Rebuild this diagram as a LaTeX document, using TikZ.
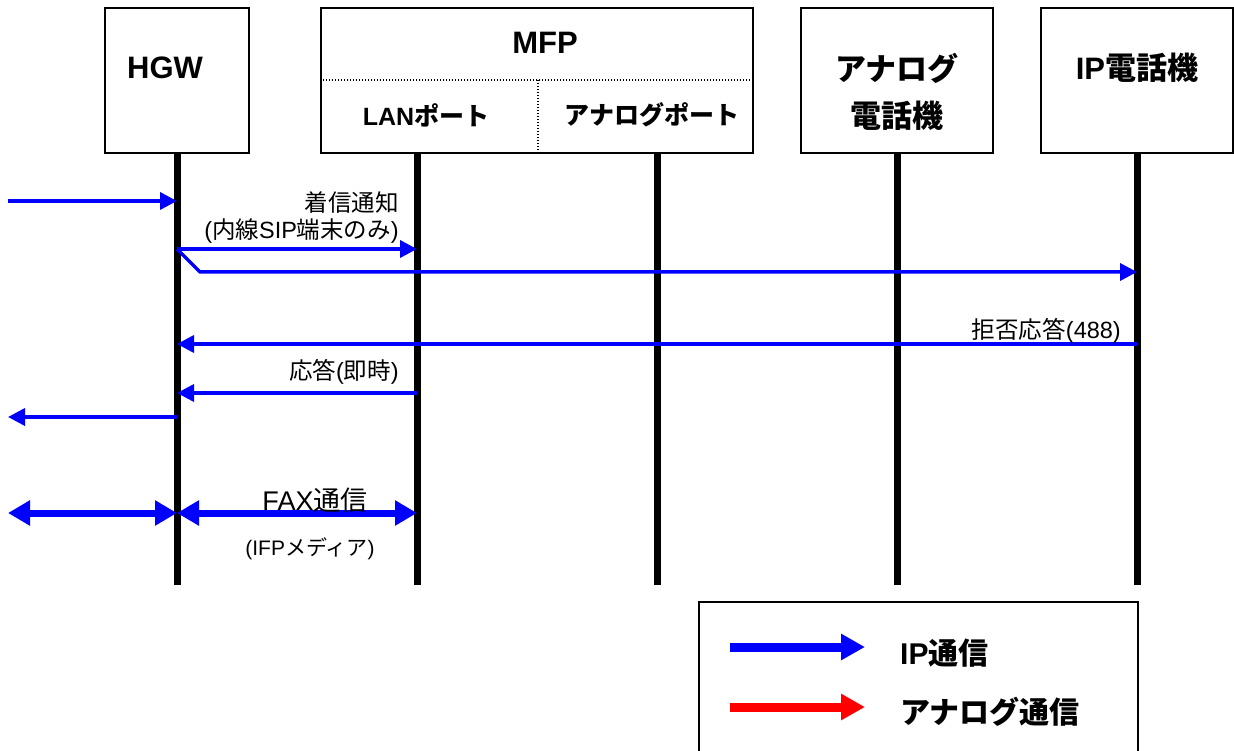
\documentclass[tikz,border=0pt]{standalone}
\usepackage{fontspec}
\setmainfont{Liberation Sans}
\newfontfamily\cjk{Noto Sans CJK JP}
\usetikzlibrary{arrows.meta}
\newcommand{\jp}[1]{{\cjk #1}}
\definecolor{ipblue}{RGB}{0,0,255}
\definecolor{anared}{RGB}{255,0,0}

\tikzset{
  box/.style={draw, line width=2pt, minimum width=192pt, minimum height=145pt, inner sep=0pt},
  head/.style={font=\bfseries\fontsize{31}{36}\selectfont, inner sep=0pt},
  port/.style={font=\bfseries\fontsize{25}{28}\selectfont, inner sep=0pt},
  life/.style={line width=7pt},
  msg/.style={draw=ipblue, line width=3.5pt, -{Triangle[length=17pt,width=17pt]}},
  fax/.style={draw=ipblue, line width=7pt, {Triangle[length=22pt,width=24pt]}-{Triangle[length=22pt,width=24pt]}},
  lbl/.style={font=\fontsize{23.5}{27}\selectfont, inner sep=0pt},
  legarrow/.style={line width=9pt, -{Triangle[length=24pt,width=25pt]}},
  legtxt/.style={font=\bfseries\fontsize{30}{34}\selectfont, inner sep=0pt, anchor=west},
}

\begin{document}
\begin{tikzpicture}[x=1pt, y=-1pt]
        \useasboundingbox (0,0) rectangle (1234,751);

        % Boxes of the five parties
        \node[box, minimum width=144pt] (hgw) at (177,80.5) {};
        \node[box, minimum width=432pt] (mfp) at (537,80.5) {};
        \node[box] (ana) at (897,80.5) {};
        \node[box] (ipt) at (1137,80.5) {};

        % MFP split into its two ports
        \coordinate (split) at (538,80);
        \draw[dash pattern=on 1.2pt off 1.8pt, line width=1.3pt] (mfp.west |- split) -- (mfp.east |- split);
        \draw[dash pattern=on 1.2pt off 1.8pt, line width=1.3pt] (split) -- (split |- mfp.south);

        % Box labels
        \node[head] (hgwlbl) at (165,68) {HGW};
        \node[head] (mfplbl) at (545,43) {MFP};
        \node[port] (lanlbl) at (426,115) {LAN\jp{ポート}};
        \node[port] (portlbl) at (652,115) {\jp{アナログポート}};
        \node[head] (analbl1) at (897,68) {\jp{アナログ}};
        \node[head] (analbl2) at (897,116) {\jp{電話機}};
        \node[head] (iptlbl) at (1137,68) {IP\jp{電話機}};

        % Lifelines
        \foreach \n/\x in {hgw/177, lan/417, port/657, ana/897, ipt/1137} {
            \coordinate (\n-t) at (\x,153);
            \coordinate (\n-b) at (\x,585);
            \draw[life] (\n-t) -- (\n-b);
        }

        % Incoming call
        \coordinate (in) at (8,201);
        \draw[msg] (in) -- (in -| hgw-t);
        \coordinate (inv) at (177,249);
        \coordinate (bend) at (200,272);
        \draw[msg] (inv) -- (inv -| lan-t);
        \draw[msg] (inv) -- (bend) -- (bend -| ipt-t);
        \node[lbl, anchor=east] (invlbl1) at (399,203) {\jp{着信通知}};
        \node[lbl, anchor=east] (invlbl2) at (399,231) {(\jp{内線}SIP\jp{端末のみ})};

        % Rejection from the IP phone
        \coordinate (rej) at (1137,344);
        \draw[msg] (rej) -- (rej -| hgw-t);
        \node[lbl, anchor=east] (rejlbl) at (1121,331) {\jp{拒否応答}(488)};

        % Answer from the MFP
        \coordinate (ans) at (417,393);
        \draw[msg] (ans) -- (ans -| hgw-t);
        \node[lbl, anchor=east] (anslbl) at (399,372) {\jp{応答}(\jp{即時})};
        \coordinate (out) at (8,417);
        \draw[msg] (out -| hgw-t) -- (out);

        % FAX
        \coordinate (faxl) at (8,513);
        \draw[fax] (faxl) -- (faxl -| hgw-t);
        \draw[fax] (faxl -| hgw-t) -- (faxl -| lan-t);
        \node[lbl, font=\fontsize{27}{30}\selectfont] (faxlbl) at (315,500) {FAX\jp{通信}};
        \node[lbl, font=\fontsize{21}{24}\selectfont] (medlbl) at (310,549) {(IFP\jp{メディア})};

        % Legend
        \draw[line width=1.6pt] (699,602) rectangle (1138,780);
        \coordinate (legip) at (730,647);
        \coordinate (legana) at (730,707);
        \draw[legarrow, draw=ipblue, fill=ipblue] (legip) -- ++(135,0);
        \draw[legarrow, draw=anared, fill=anared] (legana) -- ++(135,0);
        \node[legtxt] (legiptxt) at (900,653) {IP\jp{通信}};
        \node[legtxt] (leganatxt) at (900,712) {\jp{アナログ通信}};
    \end{tikzpicture}
\end{document}
